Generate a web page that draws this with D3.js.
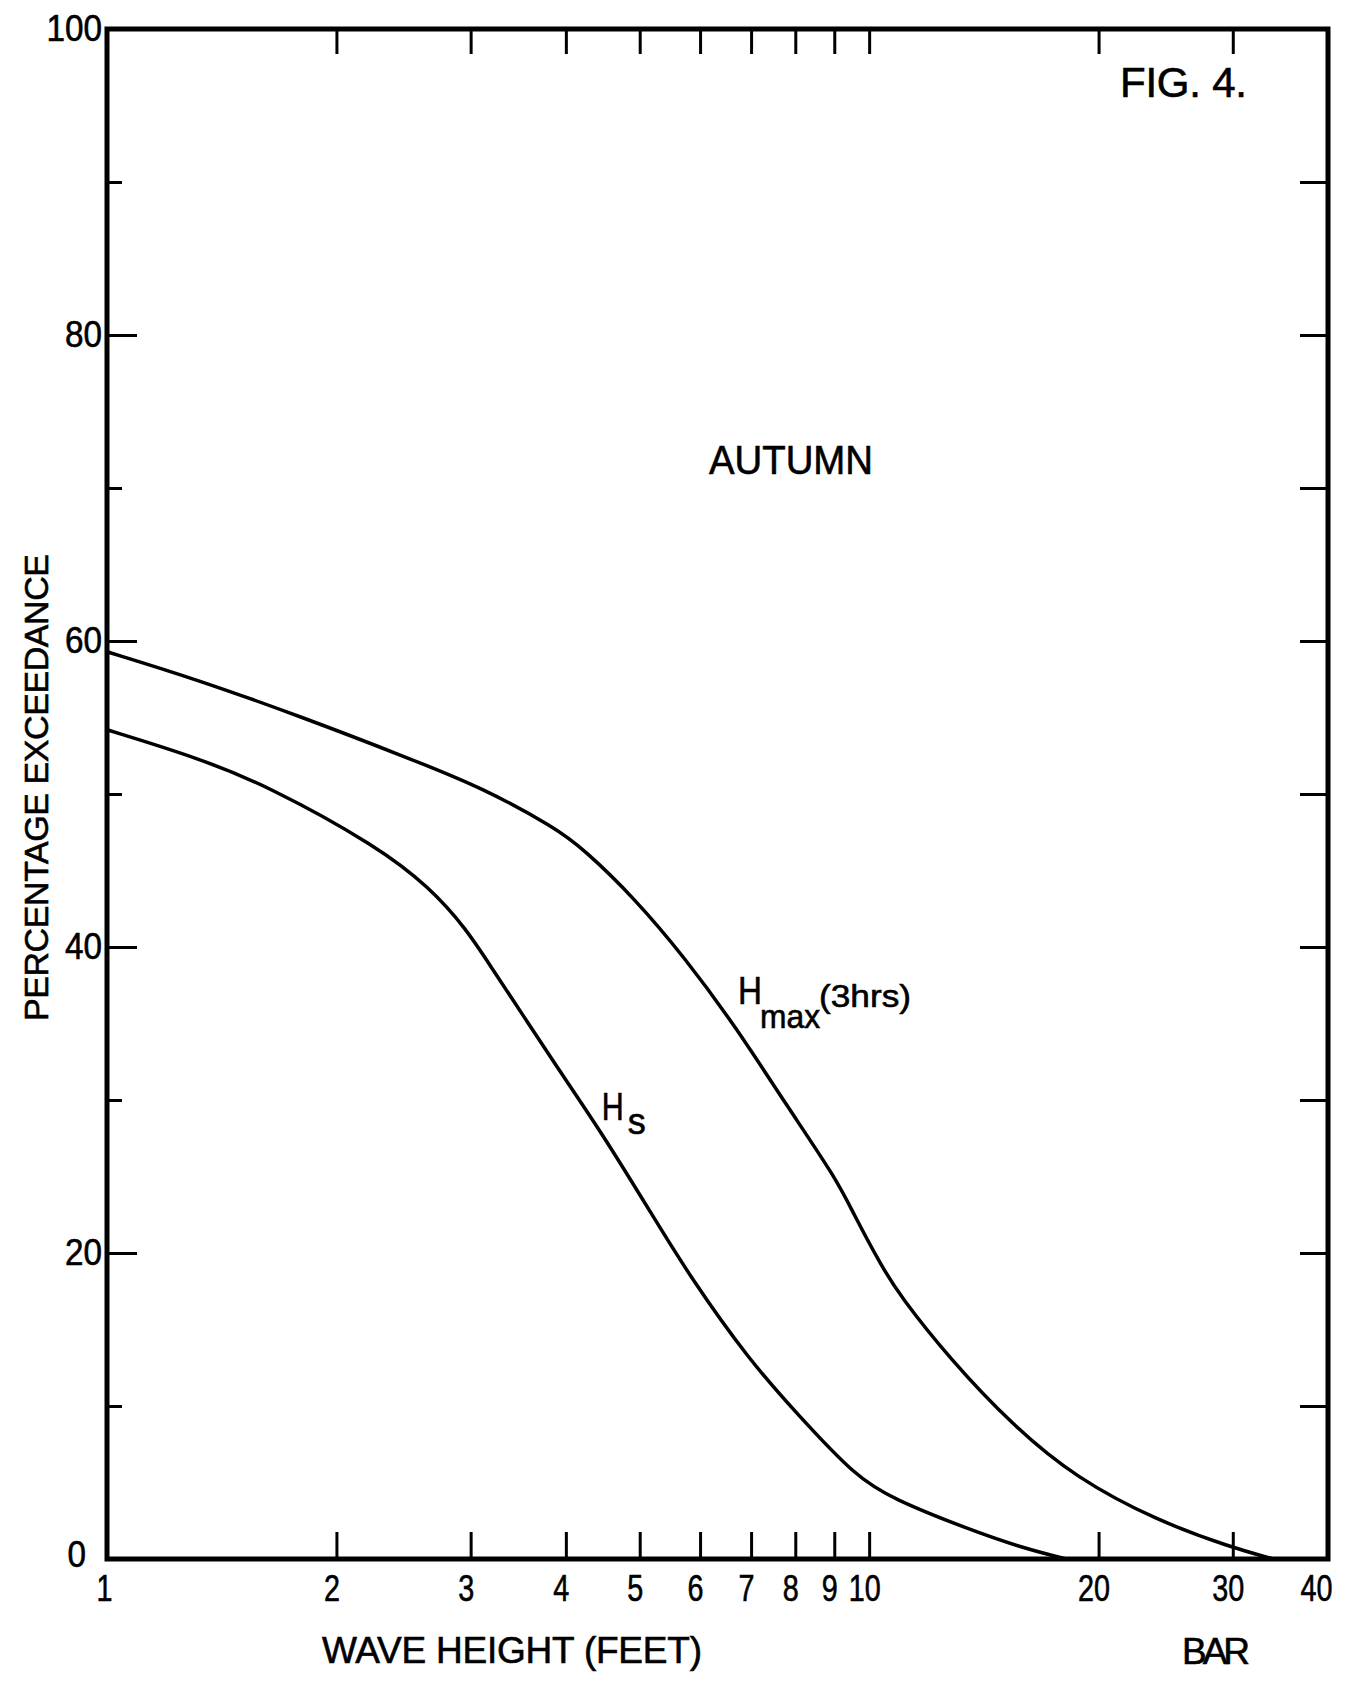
<!DOCTYPE html>
<html><head><meta charset="utf-8">
<script src="https://cdn.jsdelivr.net/npm/d3@7"></script>
<style>
html,body{margin:0;padding:0;background:#fff;}
svg{display:block;}
text{font-family:"Liberation Sans",Arial,sans-serif;fill:#000;stroke:#000;stroke-width:0.6px;}
</style>
</head><body>
<svg id="chart" width="1351" height="1685"></svg>
<script>
// ---- data ----
const hmaxHeight = [1, 1.31, 1.81, 2.5, 3.11, 3.87, 4.22, 4.92, 5.73, 6.68, 7.78, 9.07, 9.53, 10.39, 10.98, 12.75, 15.45, 18.67, 23.88, 29.7, 33.9];
const hmaxPct    = [59.3, 57.5, 55.0, 52.3, 50.4, 47.8, 46.4, 43.2, 39.3, 34.8, 29.7, 24.8, 22.6, 19.1, 17.2, 13.1, 8.7, 5.3, 2.5, 0.8, 0];
const hsHeight = [1, 1.31, 1.63, 2.26, 2.65, 2.96, 3.2, 3.53, 3.84, 4.48, 5.19, 5.83, 6.96, 8.04, 9.59, 10.77, 13.41, 15.94, 18.15];
const hsPct    = [54.2, 52.4, 50.5, 46.6, 43.9, 41.2, 38.6, 35.4, 32.6, 27.7, 22.5, 18.4, 13.0, 9.5, 5.4, 3.9, 2.0, 0.7, 0];

const xTickLabels = [1, 2, 3, 4, 5, 6, 7, 8, 9, 10, 20, 30, 40];
const xInnerTicks = [2, 3, 4, 5, 6, 7, 8, 9, 10, 20, 30];
const yTickLabels = [0, 20, 40, 60, 80, 100];
const yMinorTicks = [10, 30, 50, 70, 90];
const yRightTicks = [10, 20, 30, 40, 50, 60, 70, 80, 90];

// ---- layout ----
const svg = d3.select('#chart');
const x = d3.scaleLog().domain([1, 40]).range([107, 1328]);
const y = d3.scaleLinear().domain([0, 100]).range([1559, 29]);
const x0 = x(1), x1 = x(40), yTop = y(100), yBot = y(0);

function styleAxis(g, fs) {
  g.select('.domain').remove();
  g.selectAll('.tick line').attr('stroke', '#000').attr('stroke-width', 3);
  g.attr('font-family', '"Liberation Sans",Arial,sans-serif').attr('font-size', fs);
  g.selectAll('.tick text').attr('fill', '#000');
}

// bottom axis (labels 1..40, inner ticks)
svg.append('g').attr('transform', `translate(0,${yBot})`)
  .call(d3.axisBottom(x).tickValues(xTickLabels).tickFormat(d3.format('d')).tickSizeInner(-27).tickSizeOuter(0).tickPadding(16))
  .call(g => styleAxis(g, 37))
  .call(g => g.selectAll('.tick text').each(function (d) {
    const t = d3.select(this);
    t.attr('textLength', 16 * t.text().length).attr('lengthAdjust', 'spacingAndGlyphs')
     .attr('dx', d === 40 ? -12 : (d === 1 ? -3 : -5));
  }));

// top axis (ticks only)
svg.append('g').attr('transform', `translate(0,${yTop})`)
  .call(d3.axisTop(x).tickValues(xInnerTicks).tickFormat('').tickSizeInner(-25).tickSizeOuter(0))
  .call(g => styleAxis(g, 10));

// left axis major
svg.append('g').attr('transform', `translate(${x0},0)`)
  .call(d3.axisLeft(y).tickValues(yTickLabels).tickFormat(d3.format('d')).tickSizeInner(-30).tickSizeOuter(0).tickPadding(5))
  .call(g => styleAxis(g, 36))
  .call(g => g.selectAll('.tick text').each(function (d) {
    const t = d3.select(this);
    t.attr('textLength', 18.5 * t.text().length).attr('lengthAdjust', 'spacingAndGlyphs');
    if (d === 0) t.attr('dx', -16).attr('dy', '0.2em');
  }));

// left axis minor
svg.append('g').attr('transform', `translate(${x0},0)`)
  .call(d3.axisLeft(y).tickValues(yMinorTicks).tickFormat('').tickSizeInner(-15).tickSizeOuter(0))
  .call(g => styleAxis(g, 10));

// right axis
svg.append('g').attr('transform', `translate(${x1},0)`)
  .call(d3.axisRight(y).tickValues(yRightTicks).tickFormat('').tickSizeInner(-28).tickSizeOuter(0))
  .call(g => styleAxis(g, 10));

// frame
svg.append('rect')
  .attr('x', x0).attr('y', yTop).attr('width', x1 - x0).attr('height', yBot - yTop)
  .attr('fill', 'none').attr('stroke', '#000').attr('stroke-width', 5);

// curves
const line = d3.line().x(d => x(d[0])).y(d => y(d[1])).curve(d3.curveBasis);
const hmax = hmaxHeight.map((h, i) => [h, hmaxPct[i]]);
const hs = hsHeight.map((h, i) => [h, hsPct[i]]);
[hmax, hs].forEach(s => {
  svg.append('path').datum(s).attr('d', line)
    .attr('fill', 'none').attr('stroke', '#000').attr('stroke-width', 3.5)
    .attr('stroke-linejoin', 'round').attr('stroke-linecap', 'round');
});

// curve labels
const hmx = x(6.77), hmy = y(36.3);
svg.append('text').attr('x', hmx - 2).attr('y', hmy).attr('font-size', 38)
  .attr('textLength', 24).attr('lengthAdjust', 'spacingAndGlyphs').text('H');
svg.append('text').attr('x', hmx + 20).attr('y', hmy + 24).attr('font-size', 33)
  .attr('textLength', 60).attr('lengthAdjust', 'spacingAndGlyphs').text('max');
svg.append('text').attr('x', hmx + 79).attr('y', hmy + 3).attr('font-size', 32)
  .attr('textLength', 92).attr('lengthAdjust', 'spacingAndGlyphs').text('(3hrs)');

const hsx = x(4.5), hsy = y(28.7);
svg.append('text').attr('x', hsx - 3).attr('y', hsy).attr('font-size', 38)
  .attr('textLength', 22).attr('lengthAdjust', 'spacingAndGlyphs').text('H');
svg.append('text').attr('x', hsx + 23).attr('y', hsy + 14).attr('font-size', 36).text('s');

// titles
svg.append('text').attr('x', 1120).attr('y', 97).attr('font-size', 42)
  .attr('textLength', 127).attr('lengthAdjust', 'spacing').text('FIG. 4.');
svg.append('text').attr('x', 709).attr('y', 474).attr('font-size', 40)
  .attr('textLength', 164).attr('lengthAdjust', 'spacingAndGlyphs').text('AUTUMN');
svg.append('text').attr('transform', 'translate(48,1021) rotate(-90)').attr('font-size', 34)
  .attr('textLength', 467).attr('lengthAdjust', 'spacing').text('PERCENTAGE EXCEEDANCE');
svg.append('text').attr('x', 322).attr('y', 1663).attr('font-size', 37)
  .attr('textLength', 380).attr('lengthAdjust', 'spacing').text('WAVE HEIGHT (FEET)');
svg.append('text').attr('x', 1182).attr('y', 1664).attr('font-size', 37)
  .attr('textLength', 68).attr('lengthAdjust', 'spacing').text('BAR');
</script>
</body></html>
